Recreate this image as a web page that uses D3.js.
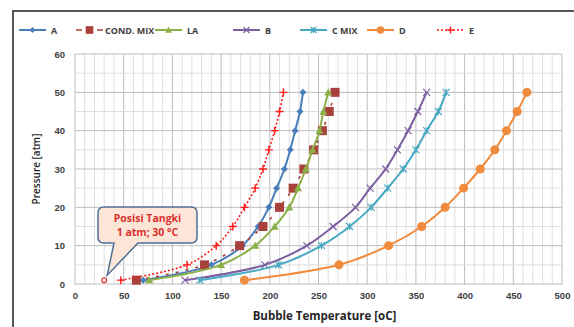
<!DOCTYPE html>
<html>
<head>
<meta charset="utf-8">
<script src="https://cdn.jsdelivr.net/npm/d3@7"></script>
<style>
  body { margin: 0; background: #fff; }
  svg { display: block; font-family: "Open Sans", "Liberation Sans", sans-serif; }
</style>
</head>
<body>
<div id="chart"></div>
<script>
// pressure levels (atm) shared by every series
var pressures = [1, 5, 10, 15, 20, 25, 30, 35, 40, 45, 50]

// bubble temperatures (oC) per series
var seriesA    = [70, 140, 172, 188, 199, 207, 215, 221, 226, 231, 234]
var seriesCond = [63, 133, 169, 193, 210, 224, 235, 245, 254, 261, 267]
var seriesLA   = [76, 150, 185, 205, 220, 229, 237, 244, 251, 255, 260]
var seriesB    = [113, 195, 238, 265, 288, 303, 319, 331, 342, 352, 361]
var seriesC    = [128, 209, 253, 282, 304, 321, 337, 350, 361, 373, 381]
var seriesD    = [174, 271, 322, 356, 380, 399, 416, 431, 443, 454, 464]
var seriesE    = [47, 115, 145, 162, 174, 185, 193, 199, 205, 210, 214]

var seriesNames = ['A', 'COND. MIX', 'LA', 'B', 'C MIX', 'D', 'E']

// tank position
var tankPoint = { t: 30, p: 1 }
var tankLines = ['Posisi Tangki', '1 atm; 30 °C']

var xTicks = [0, 50, 100, 150, 200, 250, 300, 350, 400, 450, 500]
var yTicks = [0, 10, 20, 30, 40, 50, 60]

var W = 574, H = 327

var svg = d3.select('#chart').append('svg')
  .attr('width', W)
  .attr('height', H)

var x = d3.scaleLinear().domain([0, 500]).range([75, 562])
var y = d3.scaleLinear().domain([0, 60]).range([284, 54])

// outer frame
svg.append('rect')
  .attr('x', 13).attr('y', 11)
  .attr('width', 620).attr('height', 400)
  .attr('fill', 'none')
  .attr('stroke', '#555')
  .attr('stroke-width', 2)

/**
 * grid
 */
var grid = svg.append('g')
d3.range(0, 501, 10).forEach(function (v) {
  grid.append('line')
    .attr('x1', x(v)).attr('x2', x(v))
    .attr('y1', y(0)).attr('y2', y(60))
    .attr('stroke', v % 50 == 0 ? '#bdbdbd' : '#dedede')
    .attr('stroke-width', 1)
})
d3.range(0, 61, 5).forEach(function (v) {
  grid.append('line')
    .attr('x1', x(0)).attr('x2', x(500))
    .attr('y1', y(v)).attr('y2', y(v))
    .attr('stroke', v % 10 == 0 ? '#bdbdbd' : '#dedede')
    .attr('stroke-width', 1)
})

/**
 * axes
 */
var xAxis = svg.append('g')
  .attr('transform', 'translate(0,' + (y(0) + 8) + ')')
  .call(d3.axisBottom(x).tickValues(xTicks).tickSize(0).tickPadding(0))
var yAxis = svg.append('g')
  .attr('transform', 'translate(' + (x(0) - 10) + ',0)')
  .call(d3.axisLeft(y).tickValues(yTicks).tickSize(0).tickPadding(0))
;[xAxis, yAxis].forEach(function (a) {
  a.select('.domain').remove()
  a.selectAll('text')
    .attr('fill', '#404040')
    .style('font-size', '9.5px')
    .style('font-weight', 'bold')
})
yAxis.selectAll('text').attr('dy', '0.35em')
xAxis.selectAll('text').attr('dy', '0.7em')

svg.append('text')
  .attr('x', (x(0) + x(500)) / 2 + 6)
  .attr('y', 320)
  .attr('text-anchor', 'middle')
  .attr('fill', '#262626')
  .style('font-size', '11.5px')
  .style('font-weight', 'bold')
  .text('Bubble Temperature [oC]')

svg.append('text')
  .attr('transform', 'translate(40,' + y(30) + ') rotate(-90)')
  .attr('text-anchor', 'middle')
  .attr('fill', '#262626')
  .style('font-size', '10px')
  .style('font-weight', '600')
  .text('Pressure [atm]')

/**
 * series
 */
var series = [
  { name: seriesNames[0], temps: seriesA,    color: '#4a7ebb', marker: 'diamond',  dash: null,  size: 7 },
  { name: seriesNames[1], temps: seriesCond, color: '#a8403c', marker: 'square',   dash: '3,7', size: 9 },
  { name: seriesNames[2], temps: seriesLA,   color: '#8cb048', marker: 'triangle', dash: null,  size: 8 },
  { name: seriesNames[3], temps: seriesB,    color: '#7c5fa0', marker: 'x',        dash: null,  size: 7 },
  { name: seriesNames[4], temps: seriesC,    color: '#46a8c2', marker: 'star',     dash: null,  size: 7 },
  { name: seriesNames[5], temps: seriesD,    color: '#f08a3c', marker: 'circle',   dash: null,  size: 9 },
  { name: seriesNames[6], temps: seriesE,    color: '#ff1a1a', marker: 'plus',     dash: '2,2', size: 8 }
]

var line = d3.line()
  .x(function (d) { return x(d.t) })
  .y(function (d) { return y(d.p) })
  .curve(d3.curveCatmullRom.alpha(0.5))

function drawMarker(g, type, cx, cy, s, color) {
  var h = s / 2
  if (type == 'diamond') {
    g.append('path')
      .attr('d', 'M' + cx + ',' + (cy - h) + 'L' + (cx + h) + ',' + cy + 'L' + cx + ',' + (cy + h) + 'L' + (cx - h) + ',' + cy + 'Z')
      .attr('fill', color)
  } else if (type == 'square') {
    g.append('rect')
      .attr('x', cx - h).attr('y', cy - h)
      .attr('width', s).attr('height', s)
      .attr('fill', color)
  } else if (type == 'triangle') {
    g.append('path')
      .attr('d', 'M' + cx + ',' + (cy - h) + 'L' + (cx + h) + ',' + (cy + h * 0.8) + 'L' + (cx - h) + ',' + (cy + h * 0.8) + 'Z')
      .attr('fill', color)
  } else if (type == 'circle') {
    g.append('circle')
      .attr('cx', cx).attr('cy', cy).attr('r', h)
      .attr('fill', color)
  } else if (type == 'x' || type == 'star' || type == 'plus') {
    var p = ''
    if (type != 'plus') {
      p += 'M' + (cx - h) + ',' + (cy - h) + 'L' + (cx + h) + ',' + (cy + h)
      p += 'M' + (cx - h) + ',' + (cy + h) + 'L' + (cx + h) + ',' + (cy - h)
    }
    if (type != 'x') {
      p += 'M' + cx + ',' + (cy - h) + 'L' + cx + ',' + (cy + h)
      if (type == 'plus') p += 'M' + (cx - h) + ',' + cy + 'L' + (cx + h) + ',' + cy
    }
    g.append('path')
      .attr('d', p)
      .attr('stroke', color)
      .attr('stroke-width', type == 'plus' ? 1.4 : 1.2)
      .attr('fill', 'none')
  }
}

var plot = svg.append('g')
series.forEach(function (s) {
  var pts = s.temps.map(function (t, i) { return { t: t, p: pressures[i] } })
  var g = plot.append('g')
  g.append('path')
    .attr('d', line(pts))
    .attr('fill', 'none')
    .attr('stroke', s.color)
    .attr('stroke-width', s.dash ? 1.6 : 2)
    .attr('stroke-dasharray', s.dash)
  pts.forEach(function (d) {
    drawMarker(g, s.marker, x(d.t), y(d.p), s.size, s.color)
  })
})

// tank marker
svg.append('circle')
  .attr('cx', x(tankPoint.t)).attr('cy', y(tankPoint.p))
  .attr('r', 2.4)
  .attr('fill', 'none')
  .attr('stroke', '#e03030')
  .attr('stroke-width', 1.2)

/**
 * callout
 */
var bx = 98, by = 207, bw = 99, bh = 36, r = 6
var tipX = x(tankPoint.t) + 3, tipY = y(tankPoint.p) - 5
var callout = 'M' + (bx + r) + ',' + by +
  'L' + (bx + bw - r) + ',' + by +
  'Q' + (bx + bw) + ',' + by + ' ' + (bx + bw) + ',' + (by + r) +
  'L' + (bx + bw) + ',' + (by + bh - r) +
  'Q' + (bx + bw) + ',' + (by + bh) + ' ' + (bx + bw - r) + ',' + (by + bh) +
  'L' + (bx + 40) + ',' + (by + bh) +
  'L' + tipX + ',' + tipY +
  'L' + (bx + 16) + ',' + (by + bh) +
  'L' + (bx + r) + ',' + (by + bh) +
  'Q' + bx + ',' + (by + bh) + ' ' + bx + ',' + (by + bh - r) +
  'L' + bx + ',' + (by + r) +
  'Q' + bx + ',' + by + ' ' + (bx + r) + ',' + by + 'Z'
svg.append('path')
  .attr('d', callout)
  .attr('fill', '#fde6d8')
  .attr('stroke', '#4f6f94')
  .attr('stroke-width', 1.5)
tankLines.forEach(function (t, i) {
  svg.append('text')
    .attr('x', bx + bw / 2)
    .attr('y', by + 15 + i * 14)
    .attr('text-anchor', 'middle')
    .attr('fill', '#d9302c')
    .style('font-size', '10.5px')
    .style('font-weight', 'bold')
    .text(t)
})

/**
 * legend
 */
var legendX = [19, 76, 155, 233, 300, 367, 437]
var legendY = 30
var legend = svg.append('g')
series.forEach(function (s, i) {
  var lx = legendX[i]
  var g = legend.append('g')
  g.append('line')
    .attr('x1', lx).attr('x2', lx + 27)
    .attr('y1', legendY).attr('y2', legendY)
    .attr('stroke', s.color)
    .attr('stroke-width', s.dash ? 1.6 : 2)
    .attr('stroke-dasharray', s.name == 'COND. MIX' ? '6,15' : s.dash)
  drawMarker(g, s.marker, lx + 13.5, legendY, s.size * 0.85, s.color)
  g.append('text')
    .attr('x', lx + (s.name == 'COND. MIX' ? 29 : 32))
    .attr('y', legendY + 3.5)
    .attr('fill', '#404040')
    .style('font-size', '9px')
    .style('font-weight', 'bold')
    .text(s.name)
})
</script>
</body>
</html>
